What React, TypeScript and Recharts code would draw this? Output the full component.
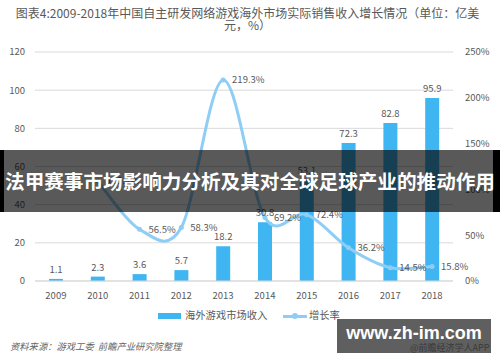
import React from "react";
import { ComposedChart, Bar, Line, XAxis, YAxis, CartesianGrid, LabelList } from "recharts";

const years = ["2009", "2010", "2011", "2012", "2013", "2014", "2015", "2016", "2017", "2018"];
const revenue = [1.1, 2.3, 3.6, 5.7, 18.2, 30.8, 53.1, 72.3, 82.8, 95.9];
const growth: (number | null)[] = [null, 109.1, 56.5, 58.3, 219.3, 69.2, 72.4, 36.2, 14.5, 15.8];
const leftTicks = [0, 20, 40, 60, 80, 100, 120];
const rightTicks = [0, 50, 100, 150, 200, 250];

const titleLine1 = "图表4:2009-2018年中国自主研发网络游戏海外市场实际销售收入增长情况（单位：亿美";
const titleLine2 = "元，%）";
const barName = "海外游戏市场收入";
const lineName = "增长率";
const sourceText = "资料来源：游戏工委  前瞻产业研究院整理";
const bannerText = "法甲赛事市场影响力分析及其对全球足球产业的推动作用";
const siteText = "www.zh-im.com";
const appText = "@前瞻经济学人APP";

const data = years.map((y, i) => ({ year: y, revenue: revenue[i], growth: growth[i] }));

const BAR = "#3fb5f1";
const LINE = "#8ecdf6";
const TXT = "#595959";
const FONT = "'Noto Sans CJK SC', 'Noto Sans', sans-serif";

// Excel-like smooth line (uniform Catmull-Rom) as a curve factory
const smoothCurve: any = (context: any) => {
  let pts: number[][] = [];
  return {
    areaStart() {},
    areaEnd() {},
    lineStart() {
      pts = [];
    },
    point(x: number, y: number) {
      pts.push([+x, +y]);
    },
    lineEnd() {
      if (!pts.length) return;
      context.moveTo(pts[0][0], pts[0][1]);
      for (let i = 0; i < pts.length - 1; i++) {
        const p0 = pts[i - 1] || pts[i];
        const p1 = pts[i];
        const p2 = pts[i + 1];
        const p3 = pts[i + 2] || p2;
        context.bezierCurveTo(
          p1[0] + (p2[0] - p0[0]) / 6,
          p1[1] + (p2[1] - p0[1]) / 6,
          p2[0] - (p3[0] - p1[0]) / 6,
          p2[1] - (p3[1] - p1[1]) / 6,
          p2[0],
          p2[1]
        );
      }
    },
  };
};

export default function App() {
  return (
    <div style={{ position: "absolute", left: 0, top: 0, width: 500, height: 362, background: "#fff", fontFamily: FONT, overflow: "hidden" }}>
      <div style={{ position: "absolute", left: 0, top: 7, width: 495, textAlign: "center", fontSize: 12, color: TXT, lineHeight: "12px", whiteSpace: "nowrap" }}>
        <div>{titleLine1}</div>
        <div>{titleLine2}</div>
      </div>
      <ComposedChart width={500} height={362} data={data} margin={{ top: 52, right: 0, bottom: 51, left: 0 }}>
        <CartesianGrid vertical={false} stroke="#d9d9d9" yAxisId="left" />
        <XAxis dataKey="year" height={30} tickLine={false} axisLine={{ stroke: "#d9d9d9" }} tick={{ fill: TXT, fontSize: 9.5 }} tickMargin={8} tickSize={3} />
        <YAxis yAxisId="left" width={35} domain={[0, 120]} ticks={leftTicks} axisLine={false} tickLine={false} tickSize={6} tickMargin={4} tick={{ fill: TXT, fontSize: 9.5 }} />
        <YAxis yAxisId="right" orientation="right" width={47} domain={[0, 250]} ticks={rightTicks} axisLine={false} tickLine={false} tickSize={6} tickMargin={6} tick={{ fill: TXT, fontSize: 9.5 }} tickFormatter={(v: number) => v + "%"} />
        <Bar yAxisId="left" dataKey="revenue" fill={BAR} barSize={14} isAnimationActive={false}>
          <LabelList dataKey="revenue" position="top" offset={6} fill={TXT} fontSize={9.5} />
        </Bar>
        <Line yAxisId="right" dataKey="growth" type={smoothCurve} stroke={LINE} strokeWidth={3} dot={{ r: 2.5, fill: LINE, stroke: LINE, strokeWidth: 0 }} isAnimationActive={false}>
          <LabelList dataKey="growth" position="right" offset={9} fill={TXT} fontSize={9.5} formatter={(v: any) => (v == null ? "" : Number(v).toFixed(1) + "%")} />
        </Line>
      </ComposedChart>
      {/* legend */}
      <div style={{ position: "absolute", left: 158, top: 313, width: 23, height: 6, background: BAR }} />
      <div style={{ position: "absolute", left: 185, top: 308, fontSize: 10.3, color: TXT, lineHeight: "14px", whiteSpace: "nowrap" }}>{barName}</div>
      <div style={{ position: "absolute", left: 283, top: 315, width: 24, height: 3, background: LINE }} />
      <div style={{ position: "absolute", left: 292, top: 313, width: 6, height: 6, borderRadius: 3, background: LINE }} />
      <div style={{ position: "absolute", left: 309, top: 308, fontSize: 10.3, color: TXT, lineHeight: "14px", whiteSpace: "nowrap" }}>{lineName}</div>
      {/* source */}
      <div style={{ position: "absolute", left: 10, top: 340, fontSize: 9.3, color: "#666", fontStyle: "italic", lineHeight: "13px", whiteSpace: "pre" }}>{sourceText}</div>
      {/* banner */}
      <div style={{ position: "absolute", left: 0, top: 150, width: 500, height: 62, background: "rgba(0,0,0,0.65)" }} />
      <div style={{ position: "absolute", left: 0, top: 150, width: 4, height: 62, background: "#000" }} />
      <div style={{ position: "absolute", left: 493, top: 150, width: 7, height: 62, background: "#000" }} />
      <div style={{ position: "absolute", left: 1, top: 168, width: 498, textAlign: "center", fontSize: 19.6, fontWeight: 700, color: "#fff", lineHeight: "26px", whiteSpace: "nowrap" }}>{bannerText}</div>
      {/* site watermark */}
      <div style={{ position: "absolute", left: 337, top: 319, width: 154, height: 34, background: "#5f5f5f" }} />
      <div style={{ position: "absolute", left: 337, top: 321, width: 154, textAlign: "center", fontFamily: "'Liberation Sans', Arial, sans-serif", fontSize: 18, fontWeight: 700, color: "#fff", lineHeight: "24px", whiteSpace: "nowrap" }}>{siteText}</div>
      <div style={{ position: "absolute", left: 410, top: 342, fontSize: 9, color: "#3a3a3a", lineHeight: "12px", whiteSpace: "nowrap" }}>{appText}</div>
    </div>
  );
}
